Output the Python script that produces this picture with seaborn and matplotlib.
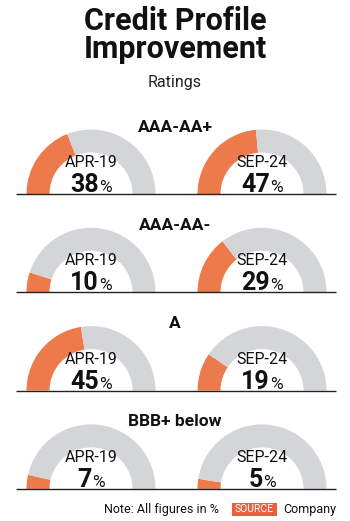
import matplotlib
matplotlib.use("Agg")
import matplotlib.pyplot as plt
from matplotlib.patches import Wedge, Rectangle
from matplotlib import font_manager
import seaborn as sns

# Share of portfolio by rating bucket (%)
ratings = ["AAA-AA+", "AAA-AA-", "A", "BBB+ below"]
periods = ["APR-19", "SEP-24"]
apr19 = [38, 10, 45, 7]
sep24 = [47, 29, 19, 5]

title = "Credit Profile\nImprovement"
subtitle = "Ratings"
note = "Note: All figures in %"
source_tag = "SOURCE"
source = "Company"

ORANGE = "#EC7A4B"
GREY = "#D4D5D7"

sns.set_theme(style="white")

installed = {f.name for f in font_manager.fontManager.ttflist}
head = "Roboto" if "Roboto" in installed else "DejaVu Sans"

fig = plt.figure(figsize=(3.5, 5.21), dpi=100)
ax = fig.add_axes([0, 0, 1, 1])
ax.set_xlim(0, 350)
ax.set_ylim(521, 0)
ax.set_aspect("equal")
ax.axis("off")

ax.text(175, 35, title, ha="center", va="center", fontsize=22, fontweight="bold",
        family=head, linespacing=0.92, color="#111111")
ax.text(175, 83, subtitle, ha="center", va="center", fontsize=11.5, family=head, color="#222222")

R_OUT, R_IN = 64.5, 41.5
centers_x = [91, 262]
base_y0, row_step = 194, 98.3

fig.canvas.draw()
renderer = fig.canvas.get_renderer()
px = 350 / fig.bbox.width

for i, label in enumerate(ratings):
    by = base_y0 + i * row_step
    ax.text(175, by - 67, label, ha="center", va="center", fontsize=12.5,
            fontweight="bold", family=head, color="#111111")
    ax.plot([16, 336], [by, by], color="#222222", lw=1.0, solid_capstyle="butt")
    for cx, per, vals in zip(centers_x, periods, [apr19, sep24]):
        v = vals[i]
        # y axis is inverted, so angles run clockwise on screen
        split = 180 + 180 * v / 100
        ax.add_patch(Wedge((cx, by), R_OUT, 180, split, width=R_OUT - R_IN,
                           facecolor=ORANGE, edgecolor="none"))
        ax.add_patch(Wedge((cx, by), R_OUT, split, 360, width=R_OUT - R_IN,
                           facecolor=GREY, edgecolor="none"))
        ax.text(cx, by - 27, per, ha="center", va="baseline", fontsize=11.5,
                family=head, color="#111111")
        num = ax.text(cx, by - 2, f"{v}", ha="left", va="baseline", fontsize=18,
                      fontweight="bold", family=head, color="#111111")
        pct = ax.text(cx, by - 2, "%", ha="left", va="baseline", fontsize=12.5,
                      family=head, color="#111111")
        wn = num.get_window_extent(renderer).width * px
        wp = pct.get_window_extent(renderer).width * px
        gap = 0.5
        start = cx - (wn + wp + gap) / 2
        num.set_x(start)
        pct.set_x(start + wn + gap)

ax.text(219, 510, note, ha="right", va="center", fontsize=9, family=head, color="#111111")
ax.add_patch(Rectangle((232, 503), 45, 13, facecolor="#E8603C", edgecolor="none"))
ax.text(254.5, 509.5, source_tag, ha="center", va="center", fontsize=7.5, family=head,
        color="white")
ax.text(283, 510, source, ha="left", va="center", fontsize=9, family=head, color="#111111")

fig.savefig("out.png", dpi=100, facecolor="white")
